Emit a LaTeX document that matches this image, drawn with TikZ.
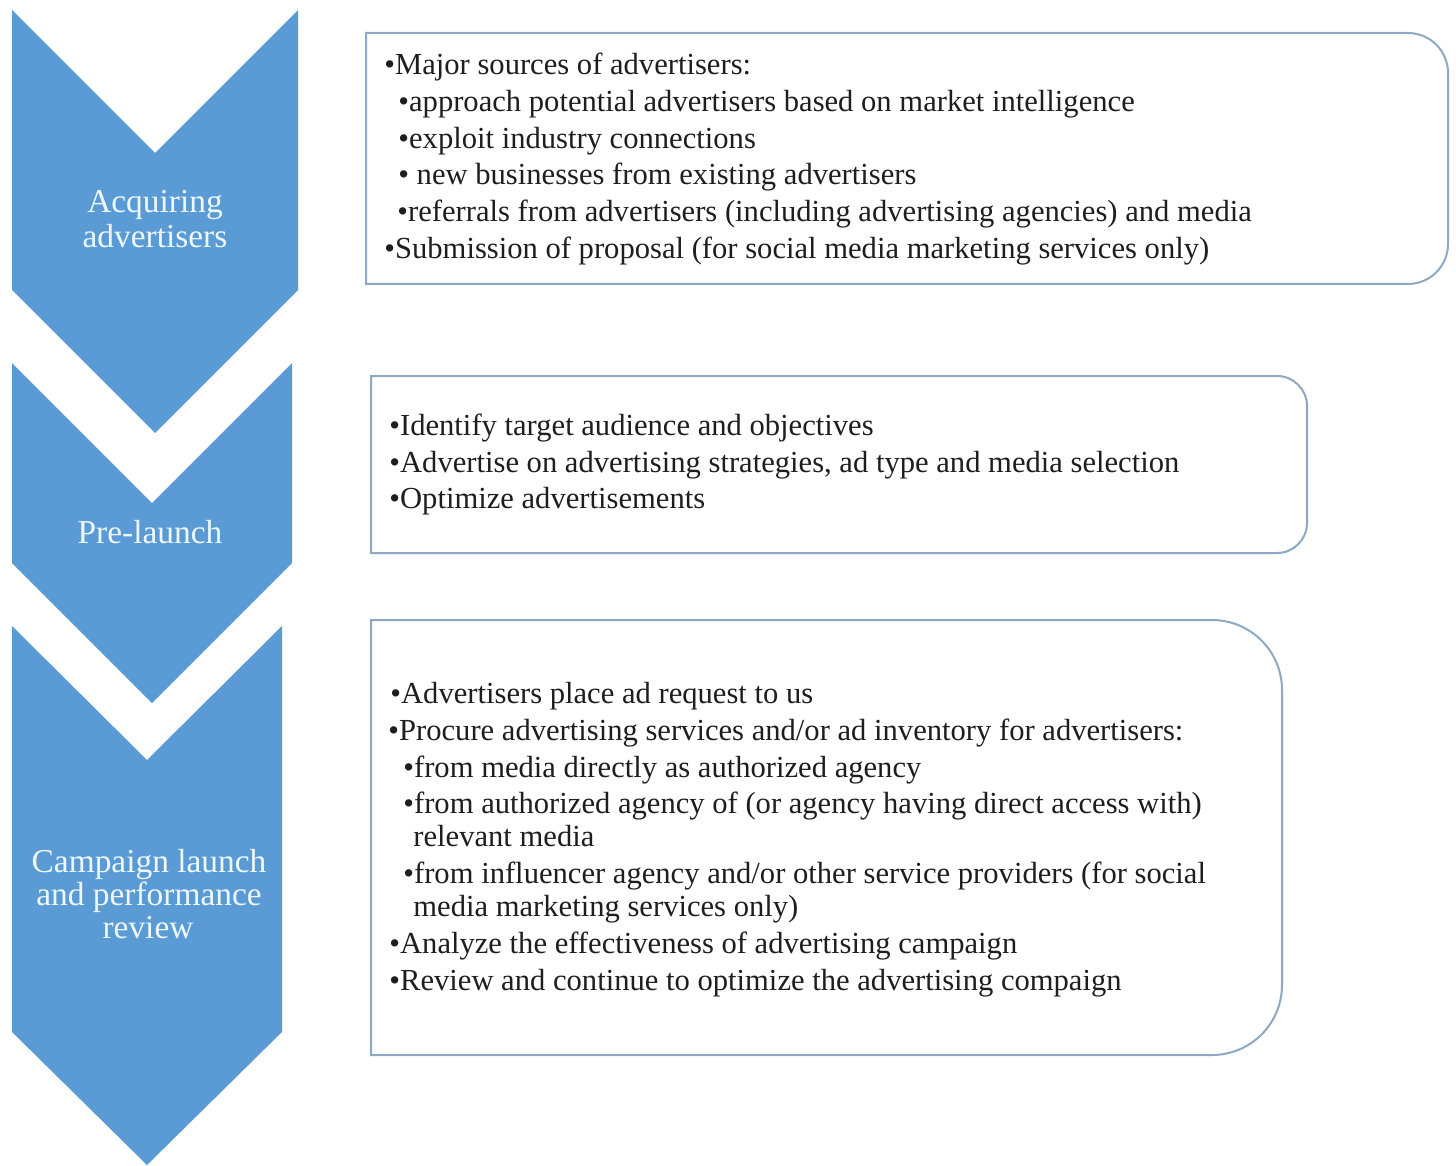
\documentclass[tikz,border=0pt]{standalone}
\usepackage{fontspec}
\setmainfont{Liberation Serif}
\definecolor{chev}{HTML}{5B9BD5}
\definecolor{boxline}{HTML}{8DA9C4}
\definecolor{txt}{HTML}{1E1E1E}
\definecolor{chevtxt}{HTML}{EEF8FC}
\begin{document}
\begin{tikzpicture}[x=0.5pt,y=-0.5pt,
  chevron/.style={fill=chev,draw=none},
  panel/.style={draw=boxline,line width=1pt,fill=white},
  ln/.style={anchor=base west,inner sep=0pt,text=txt,font=\fontsize{15.3}{18}\selectfont},
  chevlabel/.style={anchor=base,inner sep=0pt,text=chevtxt,font=\fontsize{16.7}{17}\selectfont}]
\useasboundingbox (0,0) rectangle (1456,1166);
\fill[white] (0,0) rectangle (1456,1166);

% chevrons
\coordinate (c1tl) at (12,10);
\fill[chevron] (c1tl) -- (155,153) -- (298,10) -- (298,290) -- (155,433) -- (12,290) -- cycle;
\coordinate (c2tl) at (12,363);
\fill[chevron] (c2tl) -- (152,503) -- (292,363) -- (292,563) -- (152,703) -- (12,563) -- cycle;
\coordinate (c3tl) at (12,626);
\fill[chevron] (c3tl) -- (147,760) -- (282,626) -- (282,1032) -- (147,1165) -- (12,1032) -- cycle;

\node[chevlabel] (s1a) at (155,213) {Acquiring};
\node[chevlabel] (s1b) at (155,248) {advertisers};
\node[chevlabel] (s2a) at (150,543) {Pre-launch};
\node[chevlabel] (s3a) at (149,872) {Campaign launch};
\node[chevlabel] (s3b) at (149,905) {and performance};
\node[chevlabel] (s3c) at (148,938) {review};

% panels (rounded on the right side only)
\draw[panel] (366,150) -- (366,33) [rounded corners=20pt] -- (1448,33) -- (1448,284) [sharp corners] -- (366,284) -- cycle;
\draw[panel] (371,460) -- (371,376) [rounded corners=15pt] -- (1307,376) -- (1307,553) [sharp corners] -- (371,553) -- cycle;
\draw[panel] (371,800) -- (371,620) [rounded corners=35pt] -- (1282,620) -- (1282,1055) [sharp corners] -- (371,1055) -- cycle;

% panel 1 text
\node[ln] (a1) at (384,75) {•Major sources of advertisers:};
\node[ln] (a2) at (398,112) {•approach potential advertisers based on market intelligence};
\node[ln] (a3) at (398,149) {•exploit industry connections};
\node[ln] (a4) at (398,185) {• new businesses from existing advertisers};
\node[ln] (a5) at (397,222) {•referrals from advertisers (including advertising agencies) and media};
\node[ln] (a6) at (384,259) {•Submission of proposal (for social media marketing services only)};

% panel 2 text
\node[ln] (b1) at (389,435) {•Identify target audience and objectives};
\node[ln] (b2) at (389,472) {•Advertise on advertising strategies, ad type and media selection};
\node[ln] (b3) at (389,508) {•Optimize advertisements};

% panel 3 text
\node[ln] (d1) at (390,703) {•Advertisers place ad request to us};
\node[ln] (d2) at (388,740) {•Procure advertising services and/or ad inventory for advertisers:};
\node[ln] (d3) at (403,777) {•from media directly as authorized agency};
\node[ln] (d4) at (403,813) {•from authorized agency of (or agency having direct access with)};
\node[ln] (d5) at (413,846) {relevant media};
\node[ln] (d6) at (403,883) {•from influencer agency and/or other service providers (for social};
\node[ln] (d7) at (413,916) {media marketing services only)};
\node[ln] (d8) at (389,953) {•Analyze the effectiveness of advertising campaign};
\node[ln] (d9) at (389,990) {•Review and continue to optimize the advertising compaign};
\end{tikzpicture}
\end{document}
